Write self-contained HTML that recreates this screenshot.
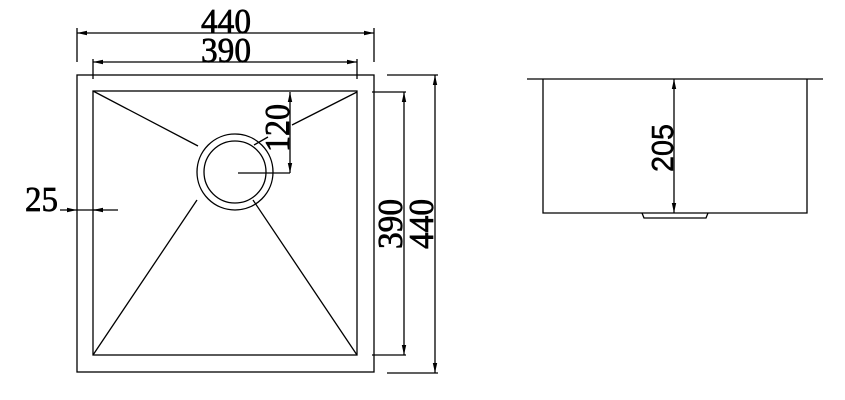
<!DOCTYPE html>
<html><head><meta charset="utf-8"><style>html,body{margin:0;padding:0;background:#fff}svg{display:block}</style></head>
<body>
<svg width="845" height="400" viewBox="0 0 845 400" xmlns="http://www.w3.org/2000/svg">
<defs>
<marker id="a" markerWidth="10" markerHeight="6" refX="10" refY="3" orient="auto" markerUnits="userSpaceOnUse"><path d="M0,0.8 L10,3 L0,5.2 Z" fill="#000"/></marker>
<marker id="b" markerWidth="10" markerHeight="6" refX="0" refY="3" orient="auto" markerUnits="userSpaceOnUse"><path d="M10,0.8 L0,3 L10,5.2 Z" fill="#000"/></marker>
</defs>
<g stroke="#000" stroke-width="1.3" fill="none">
<rect x="77" y="75" width="297" height="297"/>
<rect x="93" y="91" width="264" height="264"/>
<circle cx="235" cy="172" r="38"/>
<circle cx="235" cy="172" r="31"/>
<line x1="93" y1="91" x2="198" y2="146"/>
<line x1="357" y1="92" x2="292" y2="125"/>
<line x1="268" y1="137" x2="254" y2="145"/>
<line x1="93" y1="355" x2="197" y2="200"/>
<line x1="357" y1="355" x2="253" y2="200"/>
<line x1="77" y1="28" x2="77" y2="62"/>
<line x1="374" y1="28" x2="374" y2="62"/>
<line x1="77" y1="33" x2="374" y2="33" marker-start="url(#b)" marker-end="url(#a)"/>
<line x1="93" y1="59" x2="93" y2="79"/>
<line x1="357" y1="59" x2="357" y2="79"/>
<line x1="93" y1="62" x2="357" y2="62" marker-start="url(#b)" marker-end="url(#a)"/>
<line x1="290" y1="92" x2="290" y2="173" marker-start="url(#b)" marker-end="url(#a)"/>
<line x1="238" y1="173" x2="290" y2="173"/>
<line x1="60" y1="210" x2="77" y2="210" marker-end="url(#a)"/>
<line x1="77" y1="210" x2="118" y2="210"/>
<line x1="103" y1="210" x2="93" y2="210" marker-end="url(#a)"/>
<line x1="372" y1="92" x2="406" y2="92"/>
<line x1="372" y1="355" x2="406" y2="355"/>
<line x1="404" y1="92" x2="404" y2="355" marker-start="url(#b)" marker-end="url(#a)"/>
<line x1="387" y1="75" x2="438" y2="75"/>
<line x1="387" y1="373" x2="438" y2="373"/>
<line x1="435" y1="75" x2="435" y2="373" marker-start="url(#b)" marker-end="url(#a)"/>
<line x1="527" y1="79" x2="823" y2="79"/>
<polyline points="543,79 543,213 807,213 807,79"/>
<polyline points="642,213 644,218 706,218 708,213"/>
<line x1="674" y1="79" x2="674" y2="213" marker-start="url(#b)" marker-end="url(#a)"/>
</g>
<g font-family="'Liberation Serif', serif" font-size="35" fill="#000" stroke="#000" stroke-width="0.7">
<text x="201" y="33" textLength="50" lengthAdjust="spacingAndGlyphs">440</text>
<text x="201" y="62" textLength="50" lengthAdjust="spacingAndGlyphs">390</text>
<text x="25" y="211" textLength="33" lengthAdjust="spacingAndGlyphs">25</text>
<text transform="translate(289,152) rotate(-90)" textLength="48" lengthAdjust="spacingAndGlyphs">120</text>
<text transform="translate(402,249) rotate(-90)" textLength="50" lengthAdjust="spacingAndGlyphs">390</text>
<text transform="translate(433,249) rotate(-90)" textLength="50" lengthAdjust="spacingAndGlyphs">440</text>
</g>
<text transform="translate(673,172) rotate(-90)" font-family="'Liberation Sans', sans-serif" font-size="31" stroke="#000" stroke-width="0.5" textLength="48" lengthAdjust="spacingAndGlyphs">205</text>
</svg>
</body></html>
